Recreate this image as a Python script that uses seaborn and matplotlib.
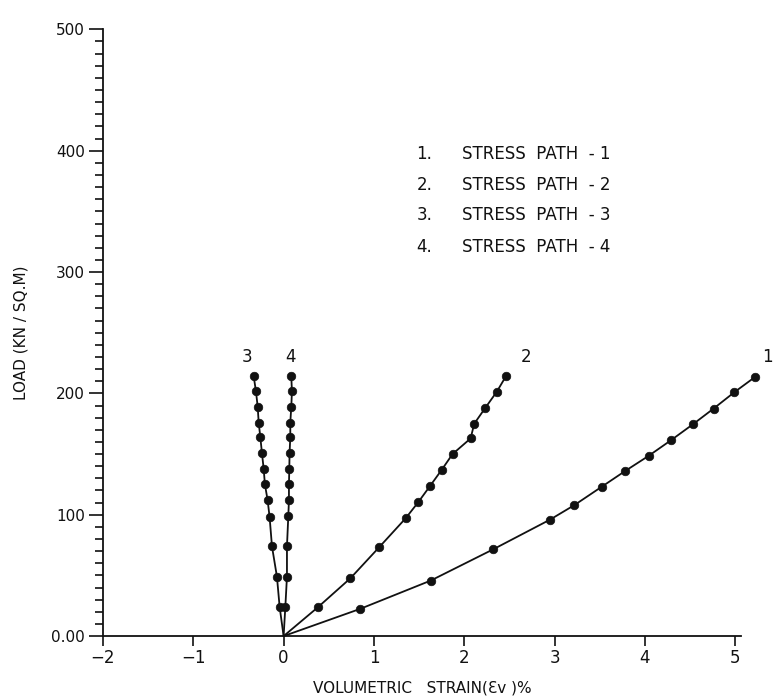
import matplotlib
matplotlib.use('Agg')
import matplotlib.pyplot as plt
import pandas as pd
import seaborn as sns
from matplotlib.ticker import MultipleLocator, FixedLocator

# Data (strain %, load kN/m2)
path1_strain = [0, 0.85, 1.63, 2.32, 2.95, 3.22, 3.52, 3.78, 4.04, 4.29, 4.53, 4.76, 4.99, 5.22]
path1_load = [0, 22.5, 45.8, 71.5, 96, 108, 123, 136, 148.5, 161.5, 174.5, 187.5, 201, 213.6]

path2_strain = [0, 0.38, 0.74, 1.06, 1.35, 1.49, 1.62, 1.75, 1.87, 2.07, 2.11, 2.23, 2.36, 2.46]
path2_load = [0, 23.8, 47.7, 73.4, 97, 110.3, 123.6, 137, 150, 162.9, 175, 187.8, 201.4, 214]

path3_strain = [0, -0.044, -0.074, -0.129, -0.155, -0.177, -0.207, -0.221, -0.24, -0.258, -0.276, -0.287, -0.306, -0.331]
path3_load = [0, 24, 49, 74, 98, 112, 125, 138, 151, 164, 176, 189, 201.6, 214]

path4_strain = [0, 0.019, 0.037, 0.037, 0.052, 0.059, 0.059, 0.063, 0.066, 0.074, 0.074, 0.085, 0.092, 0.085]
path4_load = [0, 24, 49, 74, 99, 112, 125, 138, 151, 164, 176, 189, 201.6, 214]

path_names = ['1', '2', '3', '4']
legend_rows = ['STRESS  PATH  - 1', 'STRESS  PATH  - 2', 'STRESS  PATH  - 3', 'STRESS  PATH  - 4']
x_ticks = [-2, -1, 0, 1, 2, 3, 4, 5]
x_tick_labels = ['\u22122', '\u22121', '0', '1', '2', '3', '4', '5']
y_ticks = [0, 100, 200, 300, 400, 500]
y_tick_labels = ['0.00', '100', '200', '300', '400', '500']

frames = []
for name, xs, ys in zip(path_names,
                        [path1_strain, path2_strain, path3_strain, path4_strain],
                        [path1_load, path2_load, path3_load, path4_load]):
    frames.append(pd.DataFrame({'strain': xs, 'load': ys, 'path': name}))
df = pd.concat(frames, ignore_index=True)

sns.set_style("ticks")
plt.rcParams['font.family'] = ['DejaVu Sans']
ink = '#111111'

fig = plt.figure(figsize=(7.74, 6.99), dpi=100)
ax = fig.add_axes([0.133, 0.09, 0.824, 0.868])

sns.lineplot(data=df, x='strain', y='load', units='path', estimator=None, sort=False,
             color=ink, linewidth=1.3, ax=ax)
sns.scatterplot(data=df[df['load'] > 0], x='strain', y='load', color=ink,
                s=38, edgecolor=ink, linewidth=0.5, ax=ax, zorder=3)
# the last points of path 1 run past the end of the axis
for artist in ax.lines + list(ax.collections):
    artist.set_clip_on(False)

ax.set_xlim(-2, 5.06)
ax.set_ylim(0, 500)
sns.despine(ax=ax)
for sp in ['left', 'bottom']:
    ax.spines[sp].set_linewidth(1.3)
    ax.spines[sp].set_color(ink)

ax.xaxis.set_major_locator(FixedLocator(x_ticks))
ax.set_xticklabels(x_tick_labels, fontsize=12, color=ink)
ax.yaxis.set_major_locator(FixedLocator(y_ticks))
ax.set_yticklabels(y_tick_labels, fontsize=11, color=ink)
ax.yaxis.set_minor_locator(MultipleLocator(10))
ax.tick_params(axis='x', direction='out', length=7, width=1.2, color=ink, pad=2)
ax.tick_params(axis='y', which='major', direction='out', length=10, width=1.2, color=ink, pad=3)
ax.tick_params(axis='y', which='minor', direction='out', length=6, width=1.2, color=ink)

ax.set_xlabel('VOLUMETRIC   STRAIN(\u0190v )%', fontsize=11, labelpad=10, color=ink)
ax.set_ylabel('LOAD (KN / SQ.M)', fontsize=11, labelpad=16, color=ink)

# curve numbers above the end points
label_pos = [(5.36, 230), (2.68, 230), (-0.41, 230), (0.08, 230)]
for name, (lx, ly) in zip(path_names, label_pos):
    ax.text(lx, ly, name, fontsize=12, ha='center', va='center', color=ink, clip_on=False)

# key block
key_y = [397, 372, 347, 321]
for i, (row, ky) in enumerate(zip(legend_rows, key_y)):
    ax.text(1.47, ky, f'{i + 1}.', fontsize=12, ha='left', va='center', color=ink)
    ax.text(1.98, ky, row, fontsize=12, ha='left', va='center', color=ink)

fig.savefig('out.png', dpi=100)
